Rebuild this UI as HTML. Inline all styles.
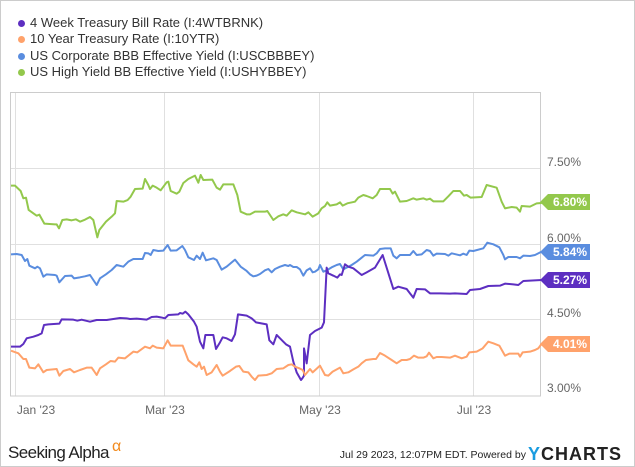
<!DOCTYPE html>
<html><head><meta charset="utf-8"><style>
body{margin:0;background:#fff;}
#c{position:relative;width:633px;height:465px;border:1px solid #ccc;overflow:hidden;font-family:"Liberation Sans",sans-serif;}
.lg{position:absolute;left:29px;font-size:13px;color:#333;}
.dot{position:absolute;left:-12px;top:5px;width:7px;height:7px;border-radius:50%;}
</style></head><body><div id="c">
<div class="lg" style="top:14px"><span class="dot" style="background:#5d2fc1"></span>4 Week Treasury Bill Rate (I:4WTBRNK)</div>
<div class="lg" style="top:30px"><span class="dot" style="background:#ffa26b"></span>10 Year Treasury Rate (I:10YTR)</div>
<div class="lg" style="top:47px"><span class="dot" style="background:#5a8ddf"></span>US Corporate BBB Effective Yield (I:USCBBBEY)</div>
<div class="lg" style="top:63px"><span class="dot" style="background:#93c84c"></span>US High Yield BB Effective Yield (I:USHYBBEY)</div>
<svg width="635" height="467" style="position:absolute;left:-1px;top:-1px" font-family="Liberation Sans, sans-serif">
<g stroke="#e0e0e0" stroke-width="1">
<line x1="10" y1="168.5" x2="540" y2="168.5"/><line x1="10" y1="244.5" x2="540" y2="244.5"/><line x1="10" y1="319.5" x2="540" y2="319.5"/>
<line x1="15.5" y1="92" x2="15.5" y2="396"/><line x1="164.5" y1="92" x2="164.5" y2="396"/><line x1="319.5" y1="92" x2="319.5" y2="396"/><line x1="473.5" y1="92" x2="473.5" y2="396"/>
</g>
<rect x="10.5" y="92.5" width="530" height="303.5" fill="none" stroke="#ccc"/>
<g fill="#666" font-size="12">
<text x="547" y="166">7.50%</text><text x="547" y="242">6.00%</text><text x="547" y="317">4.50%</text><text x="547" y="392">3.00%</text>
<text x="36" y="414" text-anchor="middle">Jan '23</text><text x="165" y="414" text-anchor="middle">Mar '23</text><text x="320" y="414" text-anchor="middle">May '23</text><text x="474" y="414" text-anchor="middle">Jul '23</text>
</g>
<g transform="translate(0,85) scale(0.33333)" fill="none" stroke-width="6" stroke-linejoin="round">
<polyline stroke="#93c84c" points="33,302 45,302 62,318 70,340 78,338 86,375 100,385 110,392 118,389 133,416 165,418 170,418 177,430 187,405 200,403 215,406 228,403 240,410 255,404 270,396 280,405 292,457 298,435 318,410 335,395 345,385 350,348 370,350 383,345 392,335 405,312 428,311 435,282 445,300 450,312 458,302 470,308 482,316 500,292 505,290 512,318 530,326 538,320 550,294 565,282 585,272 595,293 602,270 610,285 637,284 650,308 660,314 670,298 690,298 700,298 712,330 722,380 740,388 750,388 765,380 780,380 795,380 802,378 820,405 835,394 850,388 860,392 875,376 890,382 915,388 925,382 938,395 955,385 965,370 975,363 982,352 990,362 1010,358 1020,352 1028,362 1042,355 1065,350 1075,338 1090,330 1100,333 1118,340 1130,330 1140,312 1170,312 1178,326 1185,320 1200,350 1220,348 1240,340 1250,344 1270,340 1280,344 1290,341 1300,349 1330,349 1345,334 1360,318 1380,318 1392,332 1400,330 1412,338 1445,336 1460,300 1490,308 1505,350 1515,370 1535,366 1550,368 1560,380 1565,363 1590,365 1610,355 1625,354"/>
<polyline stroke="#5a8ddf" points="33,508 50,507 65,510 75,528 82,522 88,542 105,550 112,545 120,550 130,575 140,568 165,570 170,572 178,592 195,573 215,572 222,580 240,577 255,574 270,570 280,585 290,600 300,580 318,568 335,555 350,540 370,545 385,530 400,522 428,522 435,504 445,505 452,510 460,495 475,498 490,497 503,480 512,497 530,496 547,483 555,495 565,517 582,525 590,512 600,522 608,503 618,526 640,520 650,525 665,554 680,545 705,524 722,545 740,558 750,568 760,574 770,572 780,567 795,556 805,552 815,562 825,552 840,545 855,540 865,543 870,540 880,546 890,546 900,553 910,572 920,556 930,550 938,562 945,560 955,553 960,540 970,560 980,556 995,547 1010,540 1020,537 1030,553 1040,548 1055,540 1070,530 1085,518 1095,510 1120,512 1130,505 1140,492 1155,490 1172,490 1180,512 1190,520 1200,510 1230,510 1240,498 1250,510 1265,508 1280,495 1290,498 1300,512 1310,506 1335,507 1345,512 1355,505 1380,511 1390,506 1400,510 1408,497 1420,498 1450,490 1462,473 1480,478 1498,487 1510,510 1515,523 1525,516 1550,516 1560,520 1570,512 1590,513 1605,510 1625,500"/>
<polyline stroke="#5d2fc1" points="33,785 60,785 70,777 80,760 100,755 115,750 125,745 132,720 145,718 178,716 185,703 220,704 232,707 245,704 270,710 290,705 320,705 340,702 360,699 380,700 390,702 410,701 440,704 455,696 470,695 482,697 495,700 505,690 535,688 540,684 548,686 556,680 565,688 582,710 590,725 600,770 610,790 616,750 640,750 648,792 660,772 668,757 680,760 695,768 705,748 714,688 740,692 755,700 768,712 800,718 808,766 820,778 830,750 840,760 850,770 858,778 870,785 880,830 890,862 903,885 907,880 912,872 912,790 920,835 930,750 945,738 965,728 972,712 980,548 985,565 1000,572 1012,578 1020,568 1025,570 1035,538 1045,545 1060,550 1085,570 1100,562 1125,548 1148,510 1170,580 1180,612 1195,605 1220,612 1230,625 1240,638 1250,612 1275,613 1290,625 1320,625 1350,626 1365,625 1400,627 1410,615 1440,612 1465,603 1500,602 1515,596 1540,598 1555,600 1570,588 1590,587 1625,585"/>
<polyline stroke="#ffa26b" points="33,797 55,805 70,822 78,822 88,848 105,850 115,838 130,862 140,855 170,852 178,872 190,858 210,852 222,862 240,855 260,848 275,848 282,858 290,870 300,850 318,838 332,828 345,830 355,818 375,820 390,808 400,800 412,802 435,785 450,790 458,782 470,788 490,790 503,766 512,782 548,782 555,800 565,826 580,838 590,845 598,832 605,852 612,845 620,870 635,862 650,840 660,860 668,872 690,858 708,845 718,843 730,860 745,862 755,875 765,885 775,872 800,870 815,865 830,852 850,850 865,840 875,838 885,845 898,850 908,855 915,870 930,852 938,862 960,842 975,870 985,872 998,860 1020,848 1030,865 1045,862 1060,853 1075,845 1085,835 1098,825 1120,822 1128,822 1140,804 1155,812 1175,825 1190,835 1205,825 1220,825 1230,822 1242,812 1255,818 1270,818 1280,814 1287,803 1300,820 1310,816 1325,816 1350,818 1365,812 1385,820 1400,815 1408,802 1430,800 1448,790 1465,770 1480,775 1498,782 1515,812 1528,806 1555,806 1560,815 1568,802 1590,800 1605,795 1615,790 1625,776"/>
</g>
<g font-size="12" font-weight="bold" fill="#fff" text-anchor="middle">
<polygon points="540,202 548,194 590,194 590,210 548,210" fill="#93c84c"/><text x="570" y="206">6.80%</text>
<polygon points="540,252 548,244 590,244 590,260 548,260" fill="#5a8ddf"/><text x="570" y="256">5.84%</text>
<polygon points="540,280 548,272 590,272 590,288 548,288" fill="#5d2fc1"/><text x="570" y="284">5.27%</text>
<polygon points="540,344 548,336 590,336 590,352 548,352" fill="#ffa26b"/><text x="570" y="348">4.01%</text>
</g>
<text x="8" y="458" font-size="17" fill="#222" letter-spacing="-0.6">Seeking Alpha</text>
<text x="112" y="451" font-size="16" fill="#f28a1d">α</text>
<text x="526" y="458" font-size="10.5" fill="#222" text-anchor="end">Jul 29 2023, 12:07PM EDT.  Powered by</text>
<text x="528" y="460" font-size="18" font-weight="bold" fill="#1a9ce0">Y</text>
<text x="541" y="460" font-size="18" font-weight="bold" fill="#222" letter-spacing="1">CHARTS</text>
</svg></div></body></html>
